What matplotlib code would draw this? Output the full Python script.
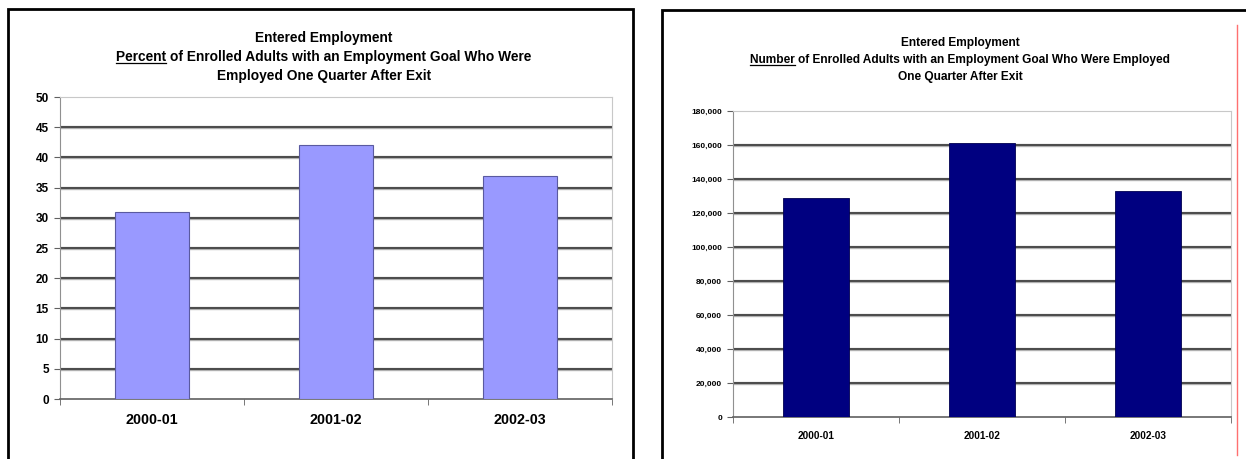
import numpy as np
import matplotlib
matplotlib.use('Agg')
import matplotlib.pyplot as plt
from matplotlib.patches import Rectangle
from matplotlib.lines import Line2D
from matplotlib.ticker import FuncFormatter

plt.rcParams['font.family'] = ['Liberation Sans', 'DejaVu Sans']

# data
years = ['2000-01', '2001-02', '2002-03']
pct_employed = [31, 42, 37]
num_employed = [129000, 161000, 133000]

pct_ticks = list(range(0, 51, 5))
num_ticks = list(range(0, 180001, 20000))

fig = plt.figure(figsize=(12.46, 4.59), dpi=100)
W, H = 1246.0, 459.0

def fx(px):
    return px / W

def fy(py):
    return 1 - py / H

# panel frames
fig.add_artist(Rectangle((fx(8), fy(470)), fx(633) - fx(8), fy(9) - fy(470),
                         fill=False, edgecolor='black', lw=2, transform=fig.transFigure))
fig.add_artist(Rectangle((fx(662), fy(470)), fx(1260) - fx(662), fy(10) - fy(470),
                         fill=False, edgecolor='black', lw=2, transform=fig.transFigure))
fig.add_artist(Line2D([fx(1237), fx(1237)], [fy(25), fy(455)], color='#ff7070', lw=1,
                      transform=fig.transFigure))


def draw_title(cx, ys, lines, word, size):
    # lines[1] starts with the underlined word
    fig.text(fx(cx), fy(ys[0]), lines[0], ha='center', va='center', fontsize=size, fontweight='bold')
    t2 = fig.text(fx(cx), fy(ys[1]), lines[1], ha='center', va='center', fontsize=size, fontweight='bold')
    fig.text(fx(cx), fy(ys[2]), lines[2], ha='center', va='center', fontsize=size, fontweight='bold')
    fig.canvas.draw()
    r = fig.canvas.get_renderer()
    bb = t2.get_window_extent(r)
    tw = fig.text(0, 0, word, fontsize=size, fontweight='bold', alpha=0)
    wb = tw.get_window_extent(r)
    uy = bb.y0 + 1
    fig.add_artist(Line2D([bb.x0 / W, (bb.x0 + wb.width) / W], [uy / H, uy / H],
                          color='black', lw=0.9, transform=fig.transFigure))


def style_axes(ax, ticks, ysize, xsize, fmt=None):
    ax.set_xlim(-0.5, 2.5)
    ax.set_ylim(ticks[0], ticks[-1])
    ax.set_yticks(ticks)
    if fmt is not None:
        ax.yaxis.set_major_formatter(FuncFormatter(fmt))
    ax.set_xticks(range(3))
    ax.set_xticklabels(years)
    ax.set_xticks([-0.5, 0.5, 1.5, 2.5], minor=True)
    ax.tick_params(axis='x', which='major', length=0, pad=10, labelsize=xsize)
    ax.tick_params(axis='x', which='minor', length=4, color='#606060', direction='out')
    ax.tick_params(axis='y', length=4, color='#606060', labelsize=ysize, pad=4)
    for lab in ax.get_xticklabels() + ax.get_yticklabels():
        lab.set_fontweight('bold')
    # gridlines with a light shadow, not on the top edge
    for t in ticks[1:-1]:
        ax.axhline(t, color='#b0b0b0', lw=2.4, zorder=1)
        ax.axhline(t, color='#303030', lw=1.1, zorder=1.5)
    ax.spines['top'].set_color('#c8c8c8')
    ax.spines['right'].set_color('#c8c8c8')
    ax.spines['left'].set_color('#909090')
    ax.spines['bottom'].set_color('#606060')
    ax.spines['bottom'].set_linewidth(1.2)


# left chart: percent
ax1 = fig.add_axes([fx(60), fy(399), fx(612) - fx(60), fy(97) - fy(399)])
ax1.bar(range(3), pct_employed, width=0.4, color='#9999ff', edgecolor='#5a5aa0', lw=0.8, zorder=3)
style_axes(ax1, pct_ticks, 8.5, 10.3)
draw_title(324, [38, 57, 76],
           ['Entered Employment',
            'Percent of Enrolled Adults with an Employment Goal Who Were',
            'Employed One Quarter After Exit'], 'Percent', 9.9)

# right chart: number
ax2 = fig.add_axes([fx(733), fy(417), fx(1231) - fx(733), fy(111) - fy(417)])
ax2.bar(range(3), num_employed, width=0.4, color='#000080', edgecolor='#000050', lw=0.6, zorder=3)
style_axes(ax2, num_ticks, 6, 7.2, fmt=lambda v, p: f'{int(v):,}')
draw_title(960, [43, 60, 77],
           ['Entered Employment',
            'Number of Enrolled Adults with an Employment Goal Who Were Employed',
            'One Quarter After Exit'], 'Number', 8.6)

fig.savefig('out.png', dpi=100)
